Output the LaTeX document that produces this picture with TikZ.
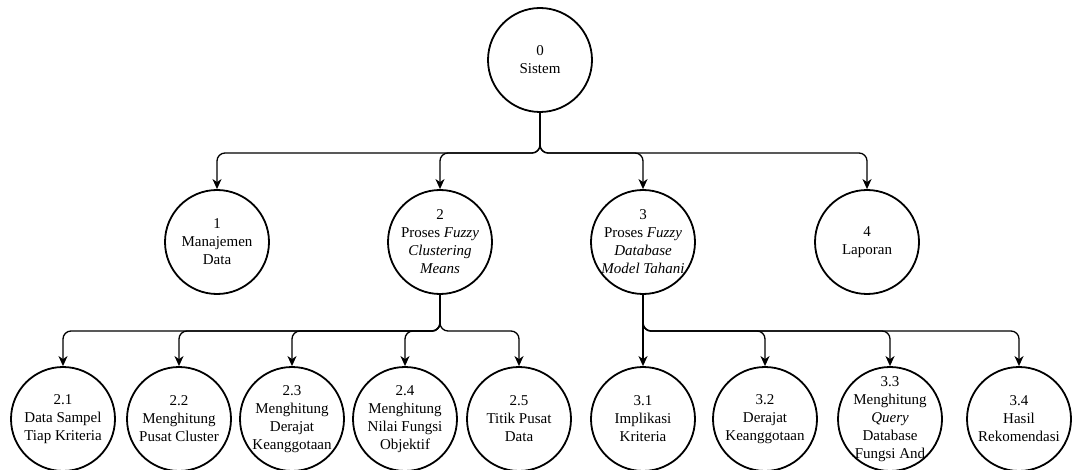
\documentclass[tikz,border=0pt]{standalone}
\usepackage{fontspec}
\setmainfont{Liberation Serif}
\usetikzlibrary{arrows.meta}
\begin{document}
\begin{tikzpicture}[x=1pt,y=-1pt,
  proc/.style={circle,draw,line width=1.8pt,minimum size=104pt,inner sep=0pt},
  lbl/.style={align=center,font=\fontsize{15}{18}\selectfont,inner sep=0pt},
  conn/.style={line width=1.3pt,rounded corners=8pt,-{Stealth[length=10pt,width=9pt,inset=3pt]}}]
\useasboundingbox (0,0) rectangle (1075,470);
% level 0
\node[proc] (n0) at (540,60) {};
\node[lbl] (t0) at (n0) {0\\Sistem};
% level 1
\node[proc] (n1) at (217,242) {};
\node[lbl] (t1) at (n1) {1\\Manajemen\\Data};
\node[proc] (n2) at (440,242) {};
\node[lbl] (t2) at (n2) {2\\Proses \textit{Fuzzy}\\\textit{Clustering}\\\textit{Means}};
\node[proc] (n3) at (643,242) {};
\node[lbl] (t3) at (n3) {3\\Proses \textit{Fuzzy}\\\textit{Database}\\\textit{Model Tahani}};
\node[proc] (n4) at (867,242) {};
\node[lbl] (t4) at (n4) {4\\Laporan};
% level 2
\node[proc] (n21) at (63,419) {};
\node[lbl] (t21) at (n21) {2.1\\Data Sampel\\Tiap Kriteria};
\node[proc] (n22) at (179,419) {};
\node[lbl] (t22) at (n22) {2.2\\Menghitung\\Pusat Cluster};
\node[proc] (n23) at (292,419) {};
\node[lbl] (t23) at (n23) {2.3\\Menghitung\\Derajat\\Keanggotaan};
\node[proc] (n24) at (405,419) {};
\node[lbl] (t24) at (n24) {2.4\\Menghitung\\Nilai Fungsi\\Objektif};
\node[proc] (n25) at (519,419) {};
\node[lbl] (t25) at (n25) {2.5\\Titik Pusat\\Data};
\node[proc] (n31) at (643,419) {};
\node[lbl] (t31) at (n31) {3.1\\Implikasi\\Kriteria};
\node[proc] (n32) at (765,419) {};
\node[lbl] (t32) at (n32) {3.2\\Derajat\\Keanggotaan};
\node[proc] (n33) at (890,419) {};
\node[lbl] (t33) at (n33) {3.3\\Menghitung\\\textit{Query}\\Database\\Fungsi And};
\node[proc] (n34) at (1019,419) {};
\node[lbl] (t34) at (n34) {3.4\\Hasil\\Rekomendasi};
% bus points
\coordinate (b0) at (540,153);
\coordinate (b2) at (440,331);
\coordinate (b3) at (643,331);
% connectors
\draw[conn] (n0.south) -- (b0) -| (n1.north);
\draw[conn] (n0.south) -- (b0) -| (n2.north);
\draw[conn] (n0.south) -- (b0) -| (n3.north);
\draw[conn] (n0.south) -- (b0) -| (n4.north);
\draw[conn] (n2.south) -- (b2) -| (n21.north);
\draw[conn] (n2.south) -- (b2) -| (n22.north);
\draw[conn] (n2.south) -- (b2) -| (n23.north);
\draw[conn] (n2.south) -- (b2) -| (n24.north);
\draw[conn] (n2.south) -- (b2) -| (n25.north);
\draw[conn] (n3.south) -- (n31.north);
\draw[conn] (n3.south) -- (b3) -| (n32.north);
\draw[conn] (n3.south) -- (b3) -| (n33.north);
\draw[conn] (n3.south) -- (b3) -| (n34.north);
\end{tikzpicture}
\end{document}
